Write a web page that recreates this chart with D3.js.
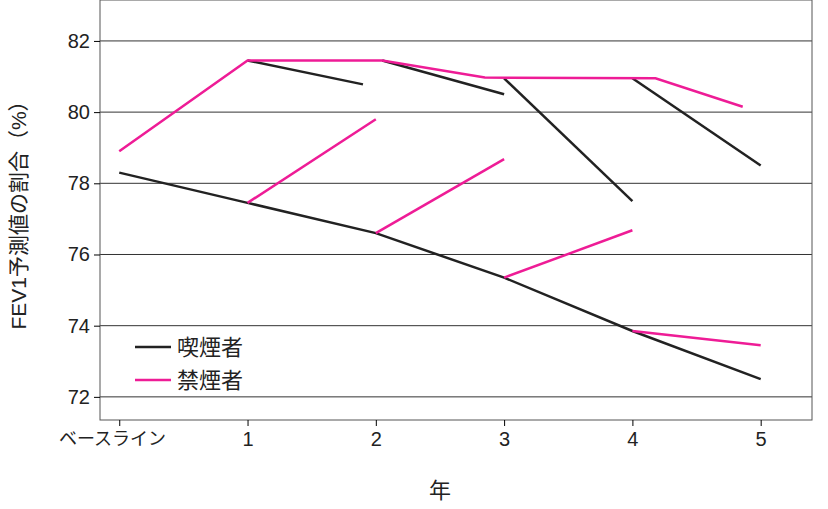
<!DOCTYPE html>
<html><head><meta charset="utf-8">
<script src="https://cdn.jsdelivr.net/npm/d3@7"></script>
<style>body{margin:0;background:#fff;} text{font-family:"Liberation Sans","Noto Sans CJK JP",sans-serif;}</style>
</head><body><div id="chart"></div>
<script>
const W = 828, H = 509;
const margin = {left: 100, right: 16, top: 0, bottom: 89};
const xLabels = ["ベースライン", "1", "2", "3", "4", "5"];
const yTicks = [72, 74, 76, 78, 80, 82];
// main trajectories [year, value]
const smokerMain = [[0, 78.3], [1, 77.45], [2, 76.6], [3, 75.35], [4, 73.85], [5, 72.5]];
const quitterMain = [[0, 78.9], [1, 81.45], [2.05, 81.45], [2.85, 80.97], [4.18, 80.95], [4.86, 80.15]];
// branches
const smokerBranches = [
  [[1, 81.45], [1.9, 80.78]],
  [[2.05, 81.45], [3, 80.5]],
  [[3, 80.95], [4, 77.5]],
  [[4, 80.95], [5, 78.5]]
];
const quitterBranches = [
  [[1, 77.45], [2, 79.8]],
  [[2, 76.6], [3, 78.68]],
  [[3, 75.35], [4, 76.68]],
  [[4, 73.85], [5, 73.45]]
];
const legendItems = [{label: "喫煙者", color: "#222"}, {label: "禁煙者", color: "#ee1c96"}];

const iw = W - margin.left - margin.right, ih = H - margin.top - margin.bottom;
const svg = d3.select("#chart").append("svg").attr("width", W).attr("height", H);
const g = svg.append("g").attr("transform", `translate(${margin.left},${margin.top})`);

const x = d3.scaleLinear().domain([-0.15, 5.4]).range([0, iw]);
const y = d3.scaleLinear().domain([71.35, 83.15]).range([ih, 0]);

// grid
g.selectAll(".grid").data(yTicks).enter().append("line")
  .attr("x1", 0).attr("x2", iw).attr("y1", d => y(d)).attr("y2", d => y(d))
  .attr("stroke", "#333").attr("stroke-width", 1);

// frame
g.append("rect").attr("width", iw).attr("height", ih).attr("fill", "none").attr("stroke", "#555");

// axes
const yAxis = g.append("g").call(d3.axisLeft(y).tickValues(yTicks).tickSize(6).tickPadding(4));
const xAxis = g.append("g").attr("transform", `translate(0,${ih})`)
  .call(d3.axisBottom(x).tickValues(d3.range(6)).tickFormat(i => xLabels[i]).tickSize(6).tickPadding(6));
[yAxis, xAxis].forEach(a => {
  a.select(".domain").remove();
  a.selectAll("text").style("font-size", "20px").attr("fill", "#222");
});
xAxis.select(".tick text").attr("dx", "-0.4em").style("font-size", "18px");

const line = d3.line().x(d => x(d[0])).y(d => y(d[1]));
function draw(data, color) {
  g.append("path").datum(data).attr("d", line).attr("fill", "none")
    .attr("stroke", color).attr("stroke-width", 2.5);
}
draw(smokerMain, "#222");
smokerBranches.forEach(b => draw(b, "#222"));
draw(quitterMain, "#ee1c96");
quitterBranches.forEach(b => draw(b, "#ee1c96"));

// legend
const lg = g.selectAll(".lg").data(legendItems).enter().append("g")
  .attr("transform", (d, i) => `translate(35,${347 + i * 33})`);
lg.append("line").attr("x1", 0).attr("x2", 36).attr("stroke", d => d.color).attr("stroke-width", 2.5);
lg.append("text").attr("x", 42).attr("dy", "0.35em").style("font-size", "22px").attr("fill", "#222").text(d => d.label);

// axis titles
svg.append("text").attr("x", margin.left + x(2.5)).attr("y", 498).attr("text-anchor", "middle")
  .style("font-size", "22px").attr("fill", "#222").text("年");
svg.append("text").attr("transform", `translate(26,${ih / 2}) rotate(-90)`).attr("text-anchor", "middle")
  .style("font-size", "21px").attr("fill", "#222").text("FEV1予測値の割合（%）");
</script></body></html>
